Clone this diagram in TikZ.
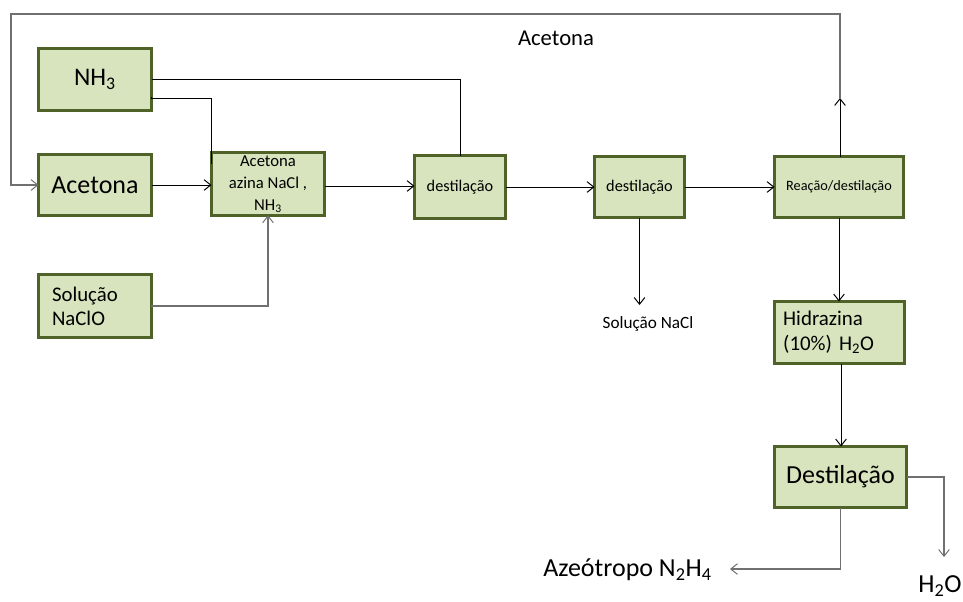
\documentclass[tikz,border=0pt]{standalone}
\usepackage{fontspec}
\setmainfont{Carlito}
\usetikzlibrary{arrows.meta,calc}
\definecolor{boxfill}{HTML}{D7E4BD}
\definecolor{boxline}{HTML}{4F6228}
\definecolor{flowgray}{HTML}{707070}
\newcommand{\fs}[2]{\fontsize{#1}{#2}\selectfont}
\tikzset{
  box/.style={draw=boxline, fill=boxfill, line width=2.25pt, rectangle, outer sep=0pt, inner sep=2pt},
  flow/.style={draw=black, line width=0.75pt},
  grayflow/.style={draw=flowgray, line width=0.9pt},
  tip/.style={-{Straight Barb[length=5pt,width=8pt,line width=0.75pt]}},
  lbl/.style={inner sep=0pt}
}
\begin{document}
\begin{tikzpicture}[x=0.75pt,y=-0.75pt]
\useasboundingbox (0,0) rectangle (963,601);

% process boxes
\node[box, minimum width=84.75pt, minimum height=46.5pt, font=\fs{19}{22}] (nh3) at (95,79.5) {NH\textsubscript{3}};
\node[box, minimum width=84.75pt, minimum height=45.75pt, font=\fs{19.5}{22}] (ace) at (95,185) {Acetona};
\node[box, minimum width=84.75pt, minimum height=45.75pt, align=center, font=\fs{12.5}{16.5}] (az) at (268,184)
  {Acetona\\azina NaCl ,\\NH\textsubscript{3}};
\node[box, minimum width=68.25pt, minimum height=47.25pt, font=\fs{12.2}{14}] (d1) at (460,187) {destilação};
\node[box, minimum width=67.5pt, minimum height=45.75pt, font=\fs{12.2}{14}] (d2) at (639.5,187) {destilação};
\node[box, minimum width=96.75pt, minimum height=45.75pt, font=\fs{10.7}{13}] (reac) at (839,187) {Reação/destilação};
\node[box, text width=64.5pt, inner xsep=10pt, minimum height=47.25pt, align=left, font=\fs{15.6}{18}] (na) at (95,306)
  {Solução\\NaClO};
\node[box, text width=84.5pt, inner xsep=6.5pt, minimum height=46.5pt, align=left, font=\fs{15.7}{19}] (hid) at (839.5,332.5)
  {Hidrazina\\(10\%) H\textsubscript{2}O};
\node[box, minimum width=99pt, minimum height=45.75pt, font=\fs{19.5}{22}] (dst) at (840.5,477) {Destilação};

% free labels
\node[lbl, font=\fs{17}{20}] (lace) at (556,38) {Acetona};
\node[lbl, font=\fs{12.9}{15}] (lnacl) at (648,324) {Solução NaCl};
\node[lbl, anchor=east, font=\fs{19.5}{22}] (lazeo) at (712,570) {Azeótropo N\textsubscript{2}H\textsubscript{4}};
\node[lbl, font=\fs{19.5}{22}] (lh2o) at (940,586) {H\textsubscript{2}O};

% turning points and open ends
\coordinate (up) at (840,98);
\coordinate (tl) at (11,14);
\coordinate (nacl) at (639.5,305);
\coordinate (azeo) at (730,569);
\coordinate (h2o) at (944,557);

% acetone recycle loop
\draw[flow, tip] (reac.north -| up) -- (up);
\draw[grayflow, tip] (up) |- (tl) |- (ace.west);

% ammonia feeds
\draw[flow] (nh3.east) -| (d1.north);
\draw[flow] ($(nh3.east)+(-0.5,17.5)$) |- ($(az.north west)+(0,-54)$) -- ($(az.north west)+(0,11)$);

% main line
\draw[flow, tip] (ace.east) -- (ace.east -| az.west);
\draw[flow, tip] ($(az.east)+(0,2)$) -- ($(az.east -| d1.west)+(0,2)$);
\draw[flow, tip] (d1.east) -- (d2.west);
\draw[flow, tip] (d2.east) -- (reac.west);

% hypochlorite feed
\draw[grayflow, tip] (na.east) -| (az.south);

% brine outlet
\draw[flow, tip] (d2.south) -- (nacl);

% hydrazine train
\draw[flow, tip] (reac.south) -- (reac.south |- hid.north);
\draw[flow, tip] ($(hid.south)+(1.5,0)$) -- ($(hid.south |- dst.north)+(1.5,0)$);
\draw[grayflow, tip] (dst.south) |- (azeo);
\draw[grayflow, tip] (dst.east) -| (h2o);
\end{tikzpicture}
\end{document}
